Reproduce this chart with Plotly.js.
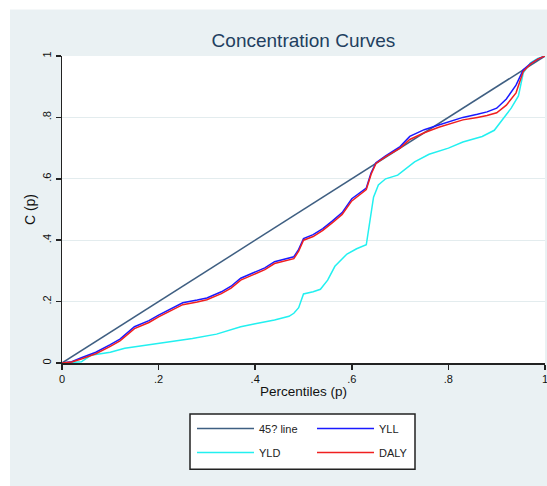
<!DOCTYPE html>
<html>
<head>
<meta charset="utf-8">
<script src="https://cdn.plot.ly/plotly-3.0.1.min.js"></script>
<style>html,body{margin:0;padding:0;background:#fff;}#chart{width:547px;height:486px;}</style>
</head>
<body>
<div id="chart"></div>
<script>
// ---- data ----
const diagP = [0, 1];
const diagC = [0, 1];

const pYL = [0, 0.02, 0.04, 0.07, 0.1, 0.12, 0.15, 0.18, 0.2, 0.23, 0.25, 0.28, 0.3, 0.33, 0.35, 0.37, 0.4, 0.42, 0.44, 0.46, 0.48, 0.49, 0.5, 0.52, 0.54, 0.56, 0.58, 0.6, 0.62, 0.63, 0.64, 0.65, 0.67, 0.7, 0.72, 0.75, 0.78, 0.8, 0.83, 0.86, 0.88, 0.9, 0.92, 0.94, 0.955, 0.97, 0.985, 1];
const yll = [0, 0.004, 0.017, 0.035, 0.06, 0.078, 0.118, 0.138, 0.156, 0.18, 0.196, 0.205, 0.212, 0.232, 0.25, 0.276, 0.295, 0.31, 0.33, 0.337, 0.346, 0.37, 0.405, 0.418, 0.438, 0.463, 0.49, 0.535, 0.558, 0.57, 0.62, 0.652, 0.675, 0.705, 0.738, 0.76, 0.775, 0.785, 0.8, 0.81, 0.818, 0.83, 0.86, 0.905, 0.955, 0.975, 0.99, 1];
const daly = [0, 0.003, 0.013, 0.03, 0.054, 0.072, 0.112, 0.132, 0.15, 0.174, 0.19, 0.199, 0.206, 0.226, 0.244, 0.27, 0.289, 0.304, 0.324, 0.331, 0.34, 0.364, 0.4, 0.412, 0.432, 0.457, 0.484, 0.528, 0.552, 0.565, 0.615, 0.65, 0.672, 0.7, 0.728, 0.75, 0.768, 0.778, 0.792, 0.8, 0.806, 0.815, 0.84, 0.88, 0.95, 0.974, 0.99, 1];

const pYLD = [0, 0.04, 0.06, 0.1, 0.13, 0.2, 0.27, 0.32, 0.37, 0.4, 0.44, 0.47, 0.48, 0.49, 0.5, 0.52, 0.535, 0.55, 0.565, 0.59, 0.61, 0.63, 0.635, 0.645, 0.655, 0.67, 0.695, 0.73, 0.76, 0.8, 0.83, 0.87, 0.895, 0.91, 0.93, 0.945, 0.955, 0.97, 0.985, 1];
const yld = [0, 0.004, 0.025, 0.035, 0.048, 0.064, 0.08, 0.094, 0.118, 0.128, 0.14, 0.152, 0.162, 0.18, 0.225, 0.232, 0.24, 0.27, 0.315, 0.355, 0.372, 0.385, 0.44, 0.54, 0.58, 0.6, 0.612, 0.655, 0.68, 0.7, 0.72, 0.738, 0.758, 0.79, 0.83, 0.87, 0.945, 0.978, 0.992, 1];

const tickVals = [0, 0.2, 0.4, 0.6, 0.8, 1];
const tickText = ['0', '.2', '.4', '.6', '.8', '1'];

const FONT = 'Liberation Sans, Arial, sans-serif';
const BG = '#eaf1f3';

const traces = [
  {x: diagP, y: diagC, name: '45? line', mode: 'lines', line: {color: '#3f5f82', width: 1.5}, legend: 'legend', legendgroup: 'a'},
  {x: pYLD, y: yld, name: 'YLD', mode: 'lines', line: {color: '#22f0f0', width: 1.5}, legend: 'legend', legendgroup: 'b'},
  {x: pYL, y: yll, name: 'YLL', mode: 'lines', line: {color: '#1a1aff', width: 1.5}, legend: 'legend2', legendgroup: 'c'},
  {x: pYL, y: daly, name: 'DALY', mode: 'lines', line: {color: '#f02020', width: 1.5}, legend: 'legend2', legendgroup: 'd'}
];

const legendCommon = {
  bgcolor: 'rgba(0,0,0,0)', borderwidth: 0,
  font: {family: FONT, size: 11, color: '#222'},
  itemwidth: 57, tracegroupgap: 5, traceorder: 'grouped',
  xanchor: 'left', yanchor: 'top'
};

const layout = {
  width: 547, height: 486,
  margin: {l: 62, r: 2, t: 56, b: 123, pad: 0},
  paper_bgcolor: BG,
  plot_bgcolor: '#ffffff',
  font: {family: FONT, size: 11, color: '#111'},
  showlegend: true,
  title: {text: 'Concentration Curves', font: {family: FONT, size: 19, color: '#223f5f'},
          x: 0.5, xref: 'paper', xanchor: 'center', y: 1 - 40/486, yref: 'container', yanchor: 'middle'},
  xaxis: {
    range: [0, 1], tickvals: tickVals, ticktext: tickText, ticks: 'outside', ticklen: 5, tickwidth: 1.5, tickcolor: '#222',
    showline: true, linecolor: '#222', linewidth: 1.5, showgrid: false, zeroline: false,
    ticklabeloverflow: 'allow',
    tickfont: {family: FONT, size: 11, color: '#111'},
    title: {text: 'Percentiles (p)', font: {family: FONT, size: 13.5, color: '#111'}, standoff: 3}
  },
  yaxis: {
    range: [0, 1], tickvals: tickVals, ticktext: tickText, ticks: 'outside', ticklen: 5, tickwidth: 1.5, tickcolor: '#222',
    tickangle: -90,
    showline: true, linecolor: '#222', linewidth: 1.5, showgrid: true, gridcolor: '#e3ecee', gridwidth: 1, zeroline: false,
    tickfont: {family: FONT, size: 11, color: '#111'},
    title: {text: 'C (p)', font: {family: FONT, size: 14, color: '#111'}, standoff: 2}
  },
  legend: Object.assign({}, legendCommon, {x: (192 - 62) / 483, y: (363 - 414) / 306.5}),
  legend2: Object.assign({}, legendCommon, {x: (312 - 62) / 483, y: (363 - 414) / 306.5}),
  shapes: [
    {type: 'rect', xref: 'paper', yref: 'paper', x0: (190 - 62) / 483, x1: (415 - 62) / 483,
     y0: (363 - 414) / 306.5, y1: (363 - 469) / 306.5, fillcolor: '#ffffff', line: {color: '#222', width: 1.5}, layer: 'below'},
    {type: 'rect', xref: 'paper', yref: 'paper', x0: -0.2, x1: 1.1, y0: (363 - 10) / 306.5, y1: 1.3,
     fillcolor: '#ffffff', line: {width: 0}, layer: 'above'},
    {type: 'rect', xref: 'paper', yref: 'paper', x0: -0.2, x1: (10 - 62) / 483, y0: -0.5, y1: 1.3,
     fillcolor: '#ffffff', line: {width: 0}, layer: 'above'}
  ]
};

Plotly.newPlot('chart', traces, layout, {displayModeBar: false, staticPlot: true});
</script>
</body>
</html>
